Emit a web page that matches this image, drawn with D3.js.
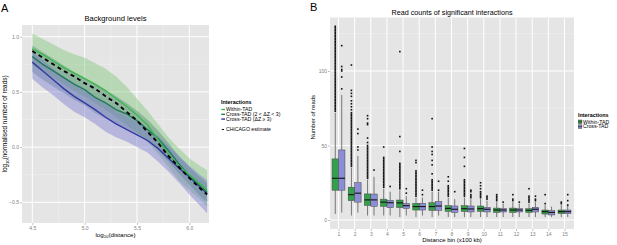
<!DOCTYPE html>
<html>
<head>
<meta charset="utf-8">
<script src="https://cdn.jsdelivr.net/npm/d3@7"></script>
<style>
  body { margin: 0; background: #fff; }
  svg { display: block; font-family: "Liberation Sans", Arial, sans-serif; }
</style>
</head>
<body>
<div id="chart"></div>
<script>
// ---- Panel A data (log10 distance vs log10 normalised reads) ----
const distA = [4.5, 4.6, 4.7, 4.8, 4.9, 5.0, 5.1, 5.2, 5.3, 5.4, 5.5, 5.6, 5.7, 5.8, 5.9, 6.0, 6.1, 6.17];
const withinMean = [0.89, 0.84, 0.78, 0.72, 0.67, 0.62, 0.57, 0.51, 0.44, 0.37, 0.29, 0.20, 0.07, -0.06, -0.17, -0.25, -0.33, -0.39];
const withinUp   = [1.03, 0.98, 0.93, 0.88, 0.84, 0.81, 0.76, 0.71, 0.64, 0.55, 0.44, 0.33, 0.21, 0.09, -0.01, -0.10, -0.17, -0.21];
const withinLo   = [0.74, 0.69, 0.63, 0.57, 0.51, 0.46, 0.40, 0.34, 0.27, 0.20, 0.13, 0.05, -0.06, -0.18, -0.30, -0.39, -0.47, -0.54];
const crossMidMean = [0.82, 0.75, 0.69, 0.63, 0.57, 0.52, 0.45, 0.40, 0.34, 0.30, 0.24, 0.16, 0.08, -0.03, -0.15, -0.26, -0.35, -0.41];
const crossMidUp   = [0.92, 0.86, 0.80, 0.74, 0.68, 0.63, 0.57, 0.52, 0.46, 0.40, 0.33, 0.25, 0.15, 0.04, -0.08, -0.18, -0.27, -0.33];
const crossMidLo   = [0.68, 0.61, 0.55, 0.49, 0.43, 0.38, 0.31, 0.26, 0.21, 0.17, 0.12, 0.05, -0.03, -0.13, -0.24, -0.34, -0.44, -0.50];
const crossHiMean = [0.77, 0.69, 0.61, 0.53, 0.46, 0.40, 0.34, 0.27, 0.21, 0.16, 0.11, 0.06, -0.01, -0.10, -0.19, -0.27, -0.36, -0.42];
const crossHiUp   = [0.86, 0.79, 0.71, 0.64, 0.57, 0.51, 0.45, 0.39, 0.33, 0.28, 0.23, 0.17, 0.10, 0.01, -0.08, -0.17, -0.25, -0.30];
const crossHiLo   = [0.62, 0.54, 0.47, 0.39, 0.32, 0.27, 0.21, 0.14, 0.09, 0.05, 0.00, -0.05, -0.13, -0.22, -0.32, -0.43, -0.53, -0.60];
const chicago = [0.87, 0.81, 0.75, 0.69, 0.64, 0.58, 0.53, 0.46, 0.40, 0.32, 0.24, 0.14, 0.04, -0.08, -0.18, -0.28, -0.37, -0.43];
const ticksAx = [4.5, 5.0, 5.5, 6.0];
const ticksAy = [-0.5, 0.0, 0.5, 1.0];

// ---- Panel B data (read counts per distance bin) ----
const bins = [1, 2, 3, 4, 5, 6, 7, 8, 9, 10, 11, 12, 13, 14, 15];
const withinLow  = [4, 3, 3, 3, 2, 2, 2, 2, 2, 2, 2, 2, 2, 2, 2];
const withinQ1   = [20, 13, 9.8, 9.2, 8.3, 6.7, 6.5, 5.8, 5.8, 5.8, 5.1, 5.1, 5.1, 4, 4.3];
const withinMed  = [28, 17, 13.5, 12, 11.5, 9, 9, 7.8, 7.6, 7.6, 6.7, 6.7, 6.5, 5.6, 5.6];
const withinQ3   = [41, 22, 17.5, 14, 13.4, 11.2, 11.6, 9.6, 9.6, 9.4, 8, 8, 7.6, 6.7, 6.7];
const withinHigh = [72, 35, 27, 21, 20, 15, 19, 15, 15, 14, 12, 12, 11, 10, 10];
const withinOut = [
  [73,74,75,76,77,78,79,80,81,82,83,84,85,86,87,88,89,90,91,92,93,94,95,96,97,98,99,100,101,102,103,104,105,106,107,108,109,110,111,112,113,114,115,116,117,118,119,120,121,122,123,124,125,126,127,128,129,130],
  [36,37,38,39,40,41,42,43,44,45,46,47,48,49,50,51,52,53,54,55,56,57,58,59,60,61,62,63,64,65,66,67,68,69,70,71,72,74,76,78,80,83,85,87,104],
  [28,29,30,31,32,33,34,35,36,37,38,39,40,41,42,43,44,45,46,47,48,49,50,52,55,64,65,68,70],
  [22,23,24,25,26,27,28,29,30,31,32,33,34,35,36,37,38,39,40,41,42,49],
  [21,22,23,24,25,26,27,28,29,30,31,32,33,34,35,36,37,38,46,56,113],
  [16,17,18,19,20,21,22,23,24,25,26,27,28,29,30,31,32,33,38.5,40],
  [20,21,22,23,24,25,26,27,31,37,40,44,46,49,68],
  [16,17,18,19,20,21,22,23,26,29],
  [16,17,18,19,20,21,22,23,24,25,26,27,36,42,48],
  [15,16,17,18,19,21,23,25],
  [13,14,15,16,17],
  [13,14,17],
  [12,13,14,15,16,21],
  [11,17],
  [11,12]
];
const crossLow  = [5, 5, 3, 3, 3, 3, 3, 2, 2, 2, 2, 2, 2, 2, 2];
const crossQ1   = [20, 12, 9.2, 8.3, 7.8, 6.7, 6.5, 5.1, 5.4, 5.4, 5.4, 5.4, 5.4, 3.4, 4.3];
const crossMed  = [28, 18, 13.5, 11.6, 9.6, 9, 9.4, 7.2, 7.4, 7.2, 6.7, 6.7, 7.2, 5.1, 5.6];
const crossQ3   = [47, 25, 17.4, 13.2, 11, 11.2, 12.3, 9.4, 9.4, 8.5, 7.6, 7.6, 8.5, 6.3, 6.7];
const crossHigh = [84, 43, 29, 19, 16, 15, 19, 14, 14, 13, 11, 11, 12, 9, 10];
const crossOut = [
  [88, 96, 100, 101, 103, 117],
  [47, 49, 58, 61],
  [33.5],
  [22.5],
  [18, 21],
  [17, 20],
  [20, 26],
  [19],
  [15, 16, 17, 19, 20],
  [14, 15, 16],
  [12],
  [12],
  [13, 14, 16],
  [],
  [10, 13, 17]
];
const ticksBy = [0, 50, 100];

const W = 617, H = 245;
const svg = d3.select('#chart').append('svg').attr('width', W).attr('height', H);

const bg = '#E5E5E5', minorCol = '#F2F2F2', tickTxt = '#7F7F7F';

// ================= Panel A =================
const A = {left: 22, right: 209, top: 25, bottom: 223};
const xA = d3.scaleLinear().domain([4.4016, 6.188]).range([A.left, A.right]);
const yA = d3.scaleLinear().domain([-0.6875, 1.106]).range([A.bottom, A.top]);

const gA = svg.append('g');
gA.append('rect').attr('x', A.left).attr('y', A.top)
  .attr('width', A.right - A.left).attr('height', A.bottom - A.top).attr('fill', bg);

// minor grid
const minorAx = [4.75, 5.25, 5.75];
const minorAy = [-0.25, 0.25, 0.75];
gA.selectAll('.mx').data(minorAx).enter().append('line')
  .attr('x1', d => xA(d)).attr('x2', d => xA(d)).attr('y1', A.top).attr('y2', A.bottom)
  .attr('stroke', minorCol).attr('stroke-width', 0.5);
gA.selectAll('.my').data(minorAy).enter().append('line')
  .attr('y1', d => yA(d)).attr('y2', d => yA(d)).attr('x1', A.left).attr('x2', A.right)
  .attr('stroke', minorCol).attr('stroke-width', 0.5);
// major grid
gA.selectAll('.gx').data(ticksAx).enter().append('line')
  .attr('x1', d => xA(d)).attr('x2', d => xA(d)).attr('y1', A.top).attr('y2', A.bottom)
  .attr('stroke', '#fff').attr('stroke-width', 1);
gA.selectAll('.gy').data(ticksAy).enter().append('line')
  .attr('y1', d => yA(d)).attr('y2', d => yA(d)).attr('x1', A.left).attr('x2', A.right)
  .attr('stroke', '#fff').attr('stroke-width', 1);

const seriesA = [
  {name: 'Within-TAD', mean: withinMean, up: withinUp, lo: withinLo, line: '#3DB94A', fill: '#6DBF67', op: 0.38},
  {name: 'Cross-TAD (2 < \u0394Z < 3)', mean: crossMidMean, up: crossMidUp, lo: crossMidLo, line: '#23795E', fill: '#4A7F7A', op: 0.38},
  {name: 'Cross-TAD (\u0394Z \u2265 3)', mean: crossHiMean, up: crossHiUp, lo: crossHiLo, line: '#3438A3', fill: '#7474CF', op: 0.42}
];

const area = (up, lo) => d3.area()
  .x((d, i) => xA(distA[i]))
  .y0((d, i) => yA(lo[i]))
  .y1((d, i) => yA(up[i]))(distA);
const lineA = vals => d3.line().x((d, i) => xA(distA[i])).y((d, i) => yA(vals[i]))(distA);

seriesA.forEach(s => {
  gA.append('path').attr('d', area(s.up, s.lo)).attr('fill', s.fill).attr('fill-opacity', s.op);
});
[seriesA[2], seriesA[1], seriesA[0]].forEach(s => {
  gA.append('path').attr('d', lineA(s.mean)).attr('fill', 'none')
    .attr('stroke', s.line).attr('stroke-width', 1.4);
});
gA.append('path').attr('d', lineA(chicago)).attr('fill', 'none')
  .attr('stroke', '#000').attr('stroke-width', 1.9).attr('stroke-dasharray', '4,3.5');

// axes A
const axA = gA.append('g').attr('transform', `translate(0,${A.bottom})`)
  .call(d3.axisBottom(xA).tickValues(ticksAx).tickFormat(d3.format('.1f')).tickSize(2).tickPadding(1));
const ayA = gA.append('g').attr('transform', `translate(${A.left},0)`)
  .call(d3.axisLeft(yA).tickValues(ticksAy).tickFormat(d3.format('.1f')).tickSize(2).tickPadding(1));
[axA, ayA].forEach(g => {
  g.select('.domain').remove();
  g.selectAll('line').attr('stroke', '#7F7F7F').attr('stroke-width', 0.5);
  g.selectAll('text').attr('font-size', '5px').attr('fill', tickTxt);
});
ayA.selectAll('text').text(d => d < 0 ? '\u22120.5' : d3.format('.1f')(d));

gA.append('text').attr('x', (A.left + A.right) / 2).attr('y', 21).attr('fill', '#000')
  .attr('text-anchor', 'middle').attr('font-size', '7.6px').text('Background levels');

const xlabA = gA.append('text').attr('x', (A.left + A.right) / 2).attr('y', 236.5).attr('fill', '#000')
  .attr('text-anchor', 'middle').attr('font-size', '6.2px');
xlabA.append('tspan').text('log');
xlabA.append('tspan').attr('font-size', '4.2px').attr('dy', 1.4).text('10');
xlabA.append('tspan').attr('dy', -1.4).text('(distance)');

const ylabA = gA.append('text').attr('transform', `translate(7,${(A.top + A.bottom) / 2}) rotate(-90)`)
  .attr('text-anchor', 'middle').attr('font-size', '6.4px').attr('fill', '#000');
ylabA.append('tspan').text('log');
ylabA.append('tspan').attr('font-size', '4.2px').attr('dy', 1.5).text('10');
ylabA.append('tspan').attr('dy', -1.5).text('(normalised number of reads)');

svg.append('text').attr('x', 1).attr('y', 12).attr('font-size', '11px').text('A');

// legend A
const legA = svg.append('g').attr('transform', 'translate(221,0)');
legA.append('text').attr('x', 0).attr('y', 104).attr('font-size', '5.4px')
  .attr('font-weight', 'bold').text('Interactions');
seriesA.forEach((s, i) => {
  const yy = 109.5 + i * 4.8;
  legA.append('line').attr('x1', 0.3).attr('x2', 4).attr('y1', yy).attr('y2', yy)
    .attr('stroke', s.line).attr('stroke-width', 1.4);
  legA.append('text').attr('x', 5).attr('y', yy + 1.8).attr('font-size', '5.2px').text(s.name);
});
legA.append('line').attr('x1', 0.8).attr('x2', 3).attr('y1', 129.5).attr('y2', 129.5)
  .attr('stroke', '#000').attr('stroke-width', 0.9);
legA.append('text').attr('x', 5).attr('y', 131.3).attr('font-size', '5.2px').text('CHiCAGO estimate');

// ================= Panel B =================
const B = {left: 330, right: 574, top: 17.5, bottom: 229};
const xB = d3.scalePoint().domain(bins).range([338.5, 564.5]);
const yB = d3.scaleLinear().domain([-6.04, 135.9]).range([B.bottom, B.top]);
const step = xB.step();
const boxW = step * 0.4;

const gB = svg.append('g');
gB.append('rect').attr('x', B.left).attr('y', B.top)
  .attr('width', B.right - B.left).attr('height', B.bottom - B.top).attr('fill', bg);
gB.selectAll('.my').data([25, 75, 125]).enter().append('line')
  .attr('y1', d => yB(d)).attr('y2', d => yB(d)).attr('x1', B.left).attr('x2', B.right)
  .attr('stroke', minorCol).attr('stroke-width', 0.5);
gB.selectAll('.gy').data(ticksBy).enter().append('line')
  .attr('y1', d => yB(d)).attr('y2', d => yB(d)).attr('x1', B.left).attr('x2', B.right)
  .attr('stroke', '#fff').attr('stroke-width', 1);
gB.selectAll('.gx').data(bins).enter().append('line')
  .attr('x1', d => xB(d)).attr('x2', d => xB(d)).attr('y1', B.top).attr('y2', B.bottom)
  .attr('stroke', '#fff').attr('stroke-width', 1);

const groupsB = [
  {name: 'Within-TAD', fill: '#33A04A', off: -boxW / 2, low: withinLow, q1: withinQ1, med: withinMed, q3: withinQ3, high: withinHigh, out: withinOut},
  {name: 'Cross-TAD', fill: '#8B8ED6', off: boxW / 2, low: crossLow, q1: crossQ1, med: crossMed, q3: crossQ3, high: crossHigh, out: crossOut}
];

groupsB.forEach(gr => {
  bins.forEach((b, i) => {
    const cx = xB(b) + gr.off;
    // whiskers
    gB.append('line').attr('x1', cx).attr('x2', cx).attr('y1', yB(gr.q3[i])).attr('y2', yB(gr.high[i]))
      .attr('stroke', '#777').attr('stroke-width', 1);
    gB.append('line').attr('x1', cx).attr('x2', cx).attr('y1', yB(gr.q1[i])).attr('y2', yB(gr.low[i]))
      .attr('stroke', '#777').attr('stroke-width', 1);
    // box
    gB.append('rect').attr('x', cx - boxW / 2).attr('y', yB(gr.q3[i]))
      .attr('width', boxW).attr('height', yB(gr.q1[i]) - yB(gr.q3[i]))
      .attr('fill', gr.fill).attr('stroke', '#444').attr('stroke-width', 0.5);
    gB.append('line').attr('x1', cx - boxW / 2).attr('x2', cx + boxW / 2)
      .attr('y1', yB(gr.med[i])).attr('y2', yB(gr.med[i]))
      .attr('stroke', '#111').attr('stroke-width', 1.1);
    // outliers
    gB.selectAll(null).data(gr.out[i]).enter().append('rect')
      .attr('x', cx - 0.8).attr('y', d => yB(d) - 0.8)
      .attr('width', 1.6).attr('height', 1.6).attr('fill', '#111');
  });
});

const axB = gB.append('g').attr('transform', `translate(0,${B.bottom})`)
  .call(d3.axisBottom(xB).tickSize(2).tickPadding(1));
const ayB = gB.append('g').attr('transform', `translate(${B.left},0)`)
  .call(d3.axisLeft(yB).tickValues(ticksBy).tickSize(2).tickPadding(1));
[axB, ayB].forEach(g => {
  g.select('.domain').remove();
  g.selectAll('line').attr('stroke', '#7F7F7F').attr('stroke-width', 0.5);
  g.selectAll('text').attr('font-size', '5px').attr('fill', tickTxt);
});

gB.append('text').attr('x', (B.left + B.right) / 2).attr('y', 15).attr('fill', '#000')
  .attr('text-anchor', 'middle').attr('font-size', '7.2px').text('Read counts of significant interactions');
gB.append('text').attr('x', (B.left + B.right) / 2).attr('y', 241.5).attr('fill', '#000')
  .attr('text-anchor', 'middle').attr('font-size', '6px').text('Distance bin (x100 kb)');
gB.append('text').attr('transform', `translate(315,${(B.top + B.bottom) / 2 - 6}) rotate(-90)`)
  .attr('text-anchor', 'middle').attr('font-size', '6px').attr('fill', '#000').text('Number of reads');

svg.append('text').attr('x', 310).attr('y', 11).attr('font-size', '11px').text('B');

// legend B
const legB = svg.append('g').attr('transform', 'translate(578,0)');
legB.append('text').attr('x', 0).attr('y', 117).attr('font-size', '5.4px')
  .attr('font-weight', 'bold').text('Interactions');
groupsB.forEach((gr, i) => {
  const yy = 121.8 + i * 4.8;
  legB.append('rect').attr('x', 0.3).attr('y', yy - 1.8).attr('width', 3.6).attr('height', 3.6)
    .attr('fill', gr.fill).attr('stroke', '#444').attr('stroke-width', 0.5);
  legB.append('line').attr('x1', 0.3).attr('x2', 3.9).attr('y1', yy).attr('y2', yy)
    .attr('stroke', '#111').attr('stroke-width', 0.6);
  legB.append('text').attr('x', 5).attr('y', yy + 1.8).attr('font-size', '5.2px').text(gr.name);
});
</script>
</body>
</html>
